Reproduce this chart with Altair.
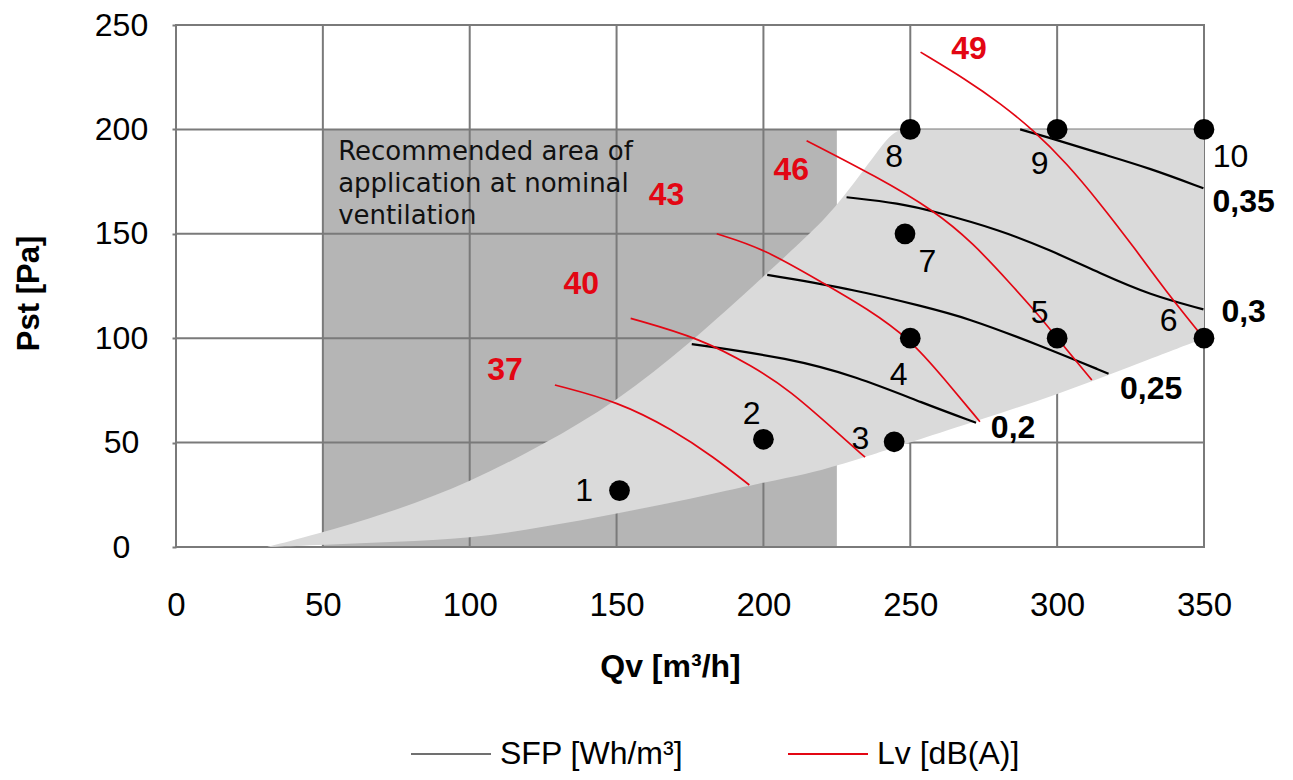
import altair as alt
import pandas as pd

RED = "#e30613"
GRID = "#7a7a7a"
FONT = "Liberation Sans"

# axes
x_ticks = [0, 50, 100, 150, 200, 250, 300, 350]
y_ticks = [0, 50, 100, 150, 200, 250]

# recommended area of application (dark box)
rec_x = [50, 225]
rec_y = [0, 200]

# working range of the fan (light grey envelope)
env_x = [31, 50, 75, 100, 125, 150, 175, 200, 215, 225, 240, 245, 250, 275, 300, 325, 350]
env_low = [0, 1, 2.5, 4, 9.5, 16, 23, 31, 35, 39, 45.5, 48, 50, 61.5, 73, 86.5, 100]
env_high = [0, 7, 17.5, 31, 49, 69.6, 97.5, 129.5, 149, 163, 192, 200, 200, 200, 200, 200, 200]

# SFP curves [Wh/m3]
sfp_names = ["0,2", "0,25", "0,3", "0,35"]
sfp_x = [
    [175.6, 209, 231.8, 254.5, 272.4],
    [201.3, 231.8, 254.5, 268.8, 293.9, 317.5],
    [228.3, 246.5, 257.9, 280.6, 297.6, 314.6, 331.6, 349.8],
    [287.4, 299.8, 314.6, 331.6, 349.8],
]
sfp_y = [
    [97.2, 90.4, 81.6, 68.8, 59.5],
    [130.3, 123.1, 115.1, 110, 96.7, 83],
    [167.5, 164.6, 160.8, 151.8, 142.2, 131.1, 120.7, 113.8],
    [200, 195, 188.5, 181.4, 171.8],
]
sfp_lab_x = [285, 332, 363.5, 363.5]
sfp_lab_y = [57, 75.5, 112.5, 165]

# Lv curves [dB(A)]
lv_names = ["37", "40", "43", "46", "49"]
lv_x = [
    [129, 150.6, 169.3, 182.9, 195.2],
    [154.8, 178.4, 196.5, 209, 225, 234.6],
    [184.1, 200, 220.4, 235.2, 250, 261.3, 273.7],
    [214.7, 238.6, 257.9, 271.5, 284, 294.2, 300, 311.8],
    [253.5, 269.2, 280.6, 291.9, 303.3, 314.6, 326, 337.3, 348.5],
]
lv_y = [
    [77.6, 69.6, 56, 43.2, 29.7],
    [109.5, 100, 86.4, 75, 55, 43],
    [150, 143, 126.3, 114.3, 99.5, 81, 60],
    [194.6, 177.3, 161.4, 145.4, 126.3, 110.3, 100, 80],
    [237, 223.7, 212.5, 199.7, 183.7, 164.6, 143.8, 122, 102.5],
]
lv_lab_x = [112, 138, 167, 209.5, 270]
lv_lab_y = [85, 126, 168.5, 180.5, 238.5]

# operating points
pt_n = ["1", "2", "3", "4", "5", "6", "7", "8", "9", "10"]
pt_x = [151, 200, 244.5, 250, 300, 350, 248.2, 250, 300, 350]
pt_y = [27, 51.6, 50.4, 100, 100, 100, 150, 200, 200, 200]
pt_lab_x = [139, 196, 233, 246, 294, 338, 255.8, 244.5, 294, 359]
pt_lab_y = [27, 63.5, 51.6, 82.4, 112, 108, 136.6, 187, 183.5, 187]

note_text = ["Recommended area of", "application at nominal", "ventilation"]
note_x = [55.2]
note_y = [185.3]

legend_labels = ["SFP [Wh/m³]", "Lv [dB(A)]"]

# ---------- tables ----------
def long_table(names, xs, ys):
    rows = []
    for n, xx, yy in zip(names, xs, ys):
        for a, b in zip(xx, yy):
            rows.append({"curve": n, "x": a, "y": b})
    return pd.DataFrame(rows)

sfp_df = long_table(sfp_names, sfp_x, sfp_y)
lv_df = long_table(lv_names, lv_x, lv_y)
env_df = pd.DataFrame({"x": env_x, "lo": env_low, "hi": env_high})
rect_df = pd.DataFrame({"x": [rec_x[0]], "x2": [rec_x[1]], "y": [rec_y[0]], "y2": [rec_y[1]]})
pts_df = pd.DataFrame({"n": pt_n, "x": pt_x, "y": pt_y, "lx": pt_lab_x, "ly": pt_lab_y})
sfp_lab_df = pd.DataFrame({"t": sfp_names, "x": sfp_lab_x, "y": sfp_lab_y})
lv_lab_df = pd.DataFrame({"t": lv_names, "x": lv_lab_x, "y": lv_lab_y})
note_df = pd.DataFrame({"t": [note_text], "x": note_x, "y": note_y})
gx_df = pd.DataFrame({"g": x_ticks})
gy_df = pd.DataFrame({"g": y_ticks})
leg_df = pd.DataFrame({"series": legend_labels, "x": [0, 0], "y": [0, 0]})

xs = alt.Scale(domain=[0, 350], nice=False, zero=False)
ys = alt.Scale(domain=[0, 250], nice=False, zero=False)

xaxis = alt.Axis(values=x_ticks, grid=False, ticks=False, domain=False,
                 labelFont=FONT, labelFontSize=33, labelColor="black",
                 labelPadding=42, labelFlush=False, labelOverlap=False,
                 title="Qv [m³/h]", titleFont=FONT, titleFontSize=32,
                 titleFontWeight="bold", titleColor="black",
                 titleX=494, titleY=104, titleBaseline="top", titleAlign="center")
yaxis = alt.Axis(values=y_ticks, grid=False, ticks=True, tickSize=4, tickColor=GRID,
                 tickWidth=2, domain=False,
                 labelFont=FONT, labelFontSize=32, labelColor="black",
                 labelAlign="center", labelBaseline="middle", labelPadding=51,
                 labelFlush=False, labelOverlap=False,
                 title="Pst [Pa]", titleFont=FONT, titleFontSize=31,
                 titleFontWeight="bold", titleColor="black",
                 titleX=-147, titleY=268, titleBaseline="middle", titleAlign="center",
                 titleAngle=270)

def X(f):
    return alt.X(f, type="quantitative", scale=xs, axis=xaxis)

def Y(f):
    return alt.Y(f, type="quantitative", scale=ys, axis=yaxis)

rect = alt.Chart(rect_df).mark_rect(color="#b5b5b5").encode(
    x=X("x"), x2="x2", y=Y("y"), y2="y2")

grid_v = alt.Chart(gx_df).mark_rule(color=GRID, strokeWidth=2).encode(x=X("g"))
grid_h = alt.Chart(gy_df).mark_rule(color=GRID, strokeWidth=2).encode(y=Y("g"))

env = alt.Chart(env_df).mark_area(color="#dadada", opacity=1, interpolate="basis").encode(
    x=X("x"), y=Y("lo"), y2="hi")

sfp_lines = alt.Chart(sfp_df).mark_line(color="black", strokeWidth=2.2, interpolate="basis").encode(
    x=X("x"), y=Y("y"), detail="curve:N")

lv_lines = alt.Chart(lv_df).mark_line(color=RED, strokeWidth=1.7, interpolate="basis").encode(
    x=X("x"), y=Y("y"), detail="curve:N")

legend_layer = alt.Chart(leg_df).mark_line().encode(
    x=X("x"), y=Y("y"),
    stroke=alt.Stroke("series:N",
                      scale=alt.Scale(domain=legend_labels, range=["#707070", RED]),
                      legend=alt.Legend(title=None, orient="none", legendX=234, legendY=688,
                                        direction="horizontal", symbolType="stroke",
                                        symbolSize=6400, symbolStrokeWidth=2,
                                        symbolOpacity=1,
                                        labelFont=FONT, labelFontSize=32, labelColor="black",
                                        labelOffset=8, columnPadding=100, padding=0,
                                        labelLimit=400)))

points = alt.Chart(pts_df).mark_circle(size=430, color="black", opacity=1).encode(
    x=X("x"), y=Y("y"))

pt_labels = alt.Chart(pts_df).mark_text(font=FONT, fontSize=32, color="black",
                                        align="center", baseline="middle").encode(
    x=X("lx"), y=Y("ly"), text="n:N")

sfp_labels = alt.Chart(sfp_lab_df).mark_text(font=FONT, fontSize=32, fontWeight="bold",
                                             color="black", align="center", baseline="middle").encode(
    x=X("x"), y=Y("y"), text="t:N")

lv_labels = alt.Chart(lv_lab_df).mark_text(font=FONT, fontSize=32, fontWeight="bold",
                                           color=RED, align="center", baseline="middle").encode(
    x=X("x"), y=Y("y"), text="t:N")

note = alt.Chart(note_df).mark_text(font="DejaVu Sans", fontSize=26, color="#111111",
                                    align="left", baseline="alphabetic", lineHeight=32).encode(
    x=X("x"), y=Y("y"), text="t")

chart = alt.layer(
    rect, grid_v, grid_h, env, sfp_lines, lv_lines, legend_layer,
    points, pt_labels, sfp_labels, lv_labels, note
).properties(
    width=1028, height=522,
    autosize=alt.AutoSizeParams(type="none"),
    padding={"left": 168, "top": 17, "right": 75, "bottom": 225},
).configure_view(stroke=GRID, strokeWidth=2)

chart.save("out.html", embed_options={"renderer": "svg", "actions": False})
